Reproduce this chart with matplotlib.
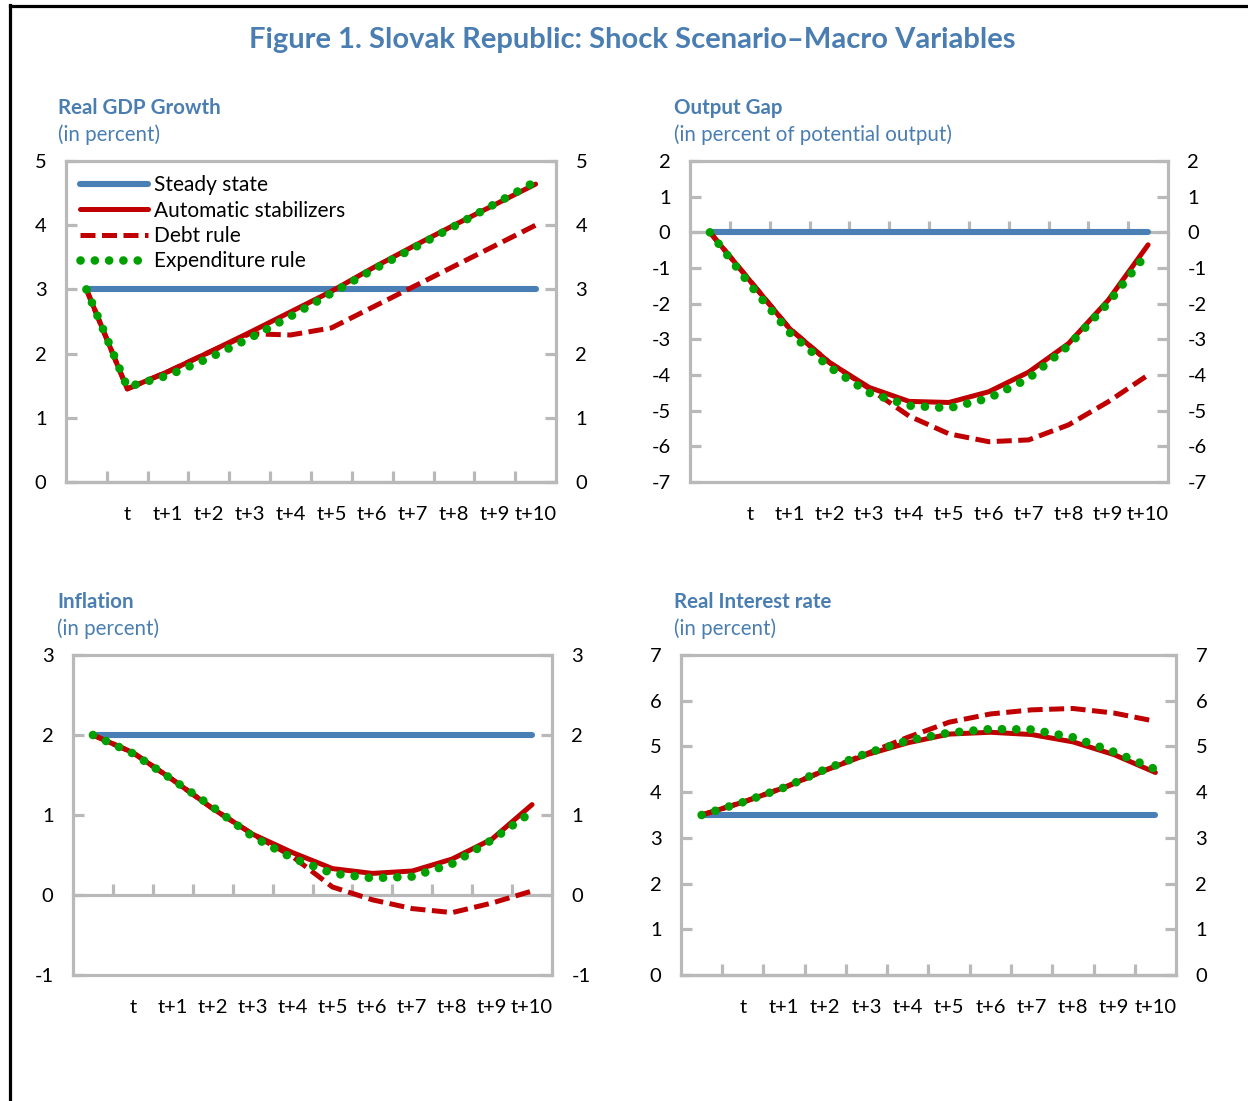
import numpy as np
import matplotlib
matplotlib.use("Agg")
import matplotlib.pyplot as plt
from matplotlib.lines import Line2D

plt.rcParams['font.family'] = ['Lato', 'DejaVu Sans']
plt.rcParams['axes.unicode_minus'] = False

# ---------------- data ----------------
categories = ['', 't', 't+1', 't+2', 't+3', 't+4', 't+5', 't+6', 't+7', 't+8', 't+9', 't+10']

series_names = ['Steady state', 'Automatic stabilizers', 'Debt rule', 'Expenditure rule']

gdp_steady = [3.0, 3.0, 3.0, 3.0, 3.0, 3.0, 3.0, 3.0, 3.0, 3.0, 3.0, 3.0]
gdp_auto = [3.0, 1.45, 1.72, 2.02, 2.33, 2.65, 2.97, 3.33, 3.67, 4.00, 4.32, 4.64]
gdp_debt = [3.0, 1.45, 1.72, 2.02, 2.31, 2.29, 2.40, 2.72, 3.04, 3.36, 3.68, 4.00]
gdp_exp = [3.0, 1.48, 1.66, 1.93, 2.24, 2.58, 2.94, 3.30, 3.64, 3.98, 4.33, 4.68]

gap_steady = [0, 0, 0, 0, 0, 0, 0, 0, 0, 0, 0, 0]
gap_auto = [0.0, -1.35, -2.70, -3.65, -4.35, -4.74, -4.77, -4.47, -3.92, -3.12, -1.90, -0.35]
gap_debt = [0.0, -1.35, -2.70, -3.65, -4.38, -5.15, -5.65, -5.87, -5.82, -5.40, -4.75, -4.00]
gap_exp = [0.0, -1.46, -2.81, -3.78, -4.50, -4.86, -4.93, -4.65, -4.10, -3.18, -1.98, -0.55]

infl_steady = [2.0, 2.0, 2.0, 2.0, 2.0, 2.0, 2.0, 2.0, 2.0, 2.0, 2.0, 2.0]
infl_auto = [2.0, 1.78, 1.44, 1.08, 0.76, 0.53, 0.33, 0.27, 0.30, 0.45, 0.70, 1.13]
infl_debt = [2.0, 1.78, 1.44, 1.08, 0.76, 0.48, 0.10, -0.06, -0.17, -0.22, -0.10, 0.05]
infl_exp = [2.0, 1.77, 1.44, 1.10, 0.73, 0.46, 0.27, 0.21, 0.23, 0.39, 0.69, 1.04]

rate_steady = [3.5, 3.5, 3.5, 3.5, 3.5, 3.5, 3.5, 3.5, 3.5, 3.5, 3.5, 3.5]
rate_auto = [3.5, 3.78, 4.10, 4.48, 4.82, 5.08, 5.27, 5.31, 5.26, 5.10, 4.82, 4.43]
rate_debt = [3.5, 3.78, 4.10, 4.48, 4.84, 5.20, 5.53, 5.71, 5.80, 5.83, 5.73, 5.55]
rate_exp = [3.5, 3.78, 4.10, 4.50, 4.85, 5.13, 5.30, 5.38, 5.37, 5.20, 4.88, 4.50]

# ---------------- style ----------------
W, H = 1248, 1101
BLUE = '#4a7fb5'
TITLE_BLUE = '#4a7eb2'
RED = '#c00000'
GREEN = '#00a000'
GRAY = '#b9b9b9'
TICK_FS = 14.5
TITLE_FS = 14.8

fig = plt.figure(figsize=(W / 100, H / 100), dpi=100)

# outer frame (left and top edges)
fig.add_artist(Line2D([10 / W, 10 / W], [0, 1 - 5 / H], transform=fig.transFigure, color='black', lw=2.3))
fig.add_artist(Line2D([10 / W, 1], [1 - 6 / H, 1 - 6 / H], transform=fig.transFigure, color='black', lw=2.3))

fig.text(632 / W, 1 - 40 / H, 'Figure 1. Slovak Republic: Shock Scenario\u2013Macro Variables',
         ha='center', va='center', fontsize=21, fontweight='bold', color=TITLE_BLUE)


def add_ax(l, r, t, b):
    return fig.add_axes([l / W, 1 - b / H, (r - l) / W, (b - t) / H])


def panel(box, title, subtitle, tpos, data, ylim, legend=False):
    l, r, t, b = box
    ax = add_ax(l, r, t, b)
    steady, auto, debt, exp = data
    x = np.arange(len(categories))
    h1, = ax.plot(x, steady, color=BLUE, lw=4.4, solid_capstyle='round', zorder=3)
    h2, = ax.plot(x, auto, color=RED, lw=3.6, solid_capstyle='round', solid_joinstyle='round', zorder=4)
    h3, = ax.plot(x, debt, color=RED, lw=3.6, linestyle=(0, (3.0, 1.3)), zorder=4)
    h4, = ax.plot(x, exp, color=GREEN, lw=6.2, linestyle=(0, (0.01, 1.65)),
                  dash_capstyle='round', zorder=5)
    ymin, ymax = ylim
    ax.set_xlim(-0.5, len(categories) - 0.5)
    ax.set_ylim(ymin, ymax)
    ax.set_yticks(np.arange(ymin, ymax + 1))
    ax.set_yticklabels([str(v) for v in range(ymin, ymax + 1)])
    ax.set_xticks(x, categories)
    ax.tick_params(axis='x', length=0, pad=17.5, labelsize=TICK_FS)
    ax.tick_params(axis='y', left=True, right=True, labelleft=True, labelright=True,
                   direction='in', length=8, width=2.3, color=GRAY, labelsize=TICK_FS, pad=14)
    for s in ax.spines.values():
        s.set_color(GRAY)
        s.set_linewidth(2.3)
    # category axis crossing at zero with tick marks between categories
    frac = (0 - ymin) / (ymax - ymin)
    sec = ax.secondary_xaxis(frac)
    sec.set_alignment('bottom')
    sec.set_xticks(np.arange(len(categories) - 1) + 0.5)
    sec.set_xticklabels([''] * (len(categories) - 1))
    sec.tick_params(direction='in', length=8, width=2.3, color=GRAY)
    for s in sec.spines.values():
        s.set_color(GRAY)
        s.set_linewidth(2.3)
    fig.text(tpos[0] / W, 1 - tpos[1] / H, title, ha='left', va='center',
             fontsize=TITLE_FS, fontweight='bold', color=TITLE_BLUE)
    fig.text(tpos[0] / W, 1 - (tpos[1] + 27) / H, subtitle, ha='left', va='center',
             fontsize=TITLE_FS, color=TITLE_BLUE)
    if legend:
        ax.legend([h1, h2, h3, h4], series_names, loc='upper left',
                  bbox_to_anchor=(0.028, 0.955), frameon=False, fontsize=15,
                  handlelength=3.3, handletextpad=0.25, labelspacing=0.25,
                  borderaxespad=0, borderpad=0)
    return ax


panel((66, 556, 161, 482), 'Real GDP Growth', '(in percent)', (58, 108),
      (gdp_steady, gdp_auto, gdp_debt, gdp_exp), (0, 5), legend=True)
panel((690, 1168, 161, 482), 'Output Gap', '(in percent of potential output)', (674, 108),
      (gap_steady, gap_auto, gap_debt, gap_exp), (-7, 2))
panel((73, 552, 655, 975), 'Inflation', '(in percent)', (57, 602),
      (infl_steady, infl_auto, infl_debt, infl_exp), (-1, 3))
panel((681, 1176, 655, 975), 'Real Interest rate', '(in percent)', (674, 602),
      (rate_steady, rate_auto, rate_debt, rate_exp), (0, 7))

fig.savefig('out.png', dpi=100)
